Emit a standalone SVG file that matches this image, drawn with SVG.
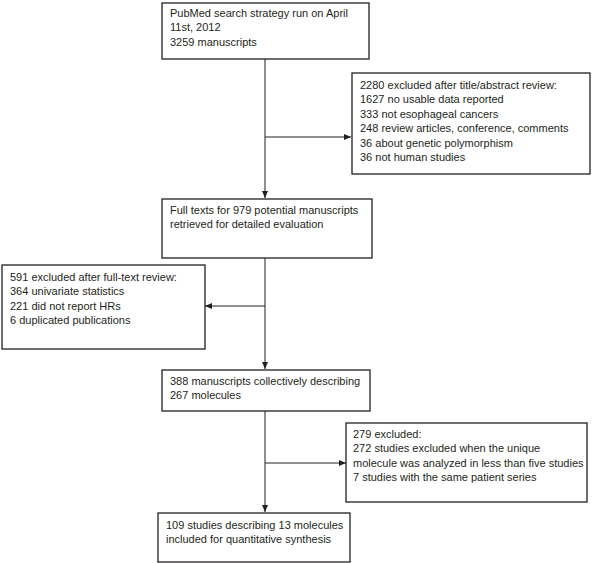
<svg xmlns="http://www.w3.org/2000/svg" width="600" height="563" viewBox="0 0 600 563">
<style>
.box{fill:#fff;stroke:#231f20;stroke-width:1.3}
.t{font-family:"Liberation Sans",Arial,sans-serif;font-size:11px;fill:#231f20}
.c{stroke:#231f20;stroke-width:1;fill:none}
</style>
<defs>
<marker id="ah" markerWidth="7" markerHeight="6" refX="7" refY="3" orient="auto" markerUnits="userSpaceOnUse">
<path d="M0,0 L7,3 L0,6 Z" fill="#231f20"/>
</marker>
</defs>
<rect width="600" height="563" fill="#fff"/>
<g id="connectors">
<line class="c" x1="265" y1="59" x2="265" y2="198" marker-end="url(#ah)"/>
<line class="c" x1="265" y1="137" x2="351" y2="137" marker-end="url(#ah)"/>
<line class="c" x1="265" y1="258" x2="265" y2="369" marker-end="url(#ah)"/>
<line class="c" x1="265" y1="306" x2="205" y2="306" marker-end="url(#ah)"/>
<line class="c" x1="265" y1="411" x2="265" y2="512" marker-end="url(#ah)"/>
<line class="c" x1="265" y1="463" x2="346" y2="463" marker-end="url(#ah)"/>
</g>
<g id="n1">
<rect class="box" x="162" y="3" width="207" height="56"/>
<text class="t" x="170" y="17">PubMed search strategy run on April</text>
<text class="t" x="170" y="31.4">11st, 2012</text>
<text class="t" x="170" y="45.8">3259 manuscripts</text>
</g>
<g id="n2">
<rect class="box" x="352" y="73" width="238" height="101"/>
<text class="t" x="360" y="89">2280 excluded after title/abstract review:</text>
<text class="t" x="360" y="103.4">1627 no usable data reported</text>
<text class="t" x="360" y="117.8">333 not esophageal cancers</text>
<text class="t" x="360" y="132.2">248 review articles, conference, comments</text>
<text class="t" x="360" y="146.6">36 about genetic polymorphism</text>
<text class="t" x="360" y="161">36 not human studies</text>
</g>
<g id="n3">
<rect class="box" x="162" y="199" width="210" height="59"/>
<text class="t" x="170" y="214">Full texts for 979 potential manuscripts</text>
<text class="t" x="170" y="228.4">retrieved for detailed evaluation</text>
</g>
<g id="n4">
<rect class="box" x="2" y="265" width="203" height="84"/>
<text class="t" x="10" y="281">591 excluded after full-text review:</text>
<text class="t" x="10" y="295.4">364 univariate statistics</text>
<text class="t" x="10" y="309.8">221 did not report HRs</text>
<text class="t" x="10" y="324.2">6 duplicated publications</text>
</g>
<g id="n5">
<rect class="box" x="162" y="370" width="208" height="41"/>
<text class="t" x="170" y="385">388 manuscripts collectively describing</text>
<text class="t" x="170" y="399.4">267 molecules</text>
</g>
<g id="n6">
<rect class="box" x="346" y="423" width="241" height="79"/>
<text class="t" x="353" y="438">279 excluded:</text>
<text class="t" x="353" y="452.4">272 studies excluded when the unique</text>
<text class="t" x="353" y="466.8">molecule was analyzed in less than five studies</text>
<text class="t" x="353" y="481.2">7 studies with the same patient series</text>
</g>
<g id="n7">
<rect class="box" x="158" y="513" width="192" height="49"/>
<text class="t" x="166" y="529">109 studies describing 13 molecules</text>
<text class="t" x="166" y="543.4">included for quantitative synthesis</text>
</g>
</svg>
